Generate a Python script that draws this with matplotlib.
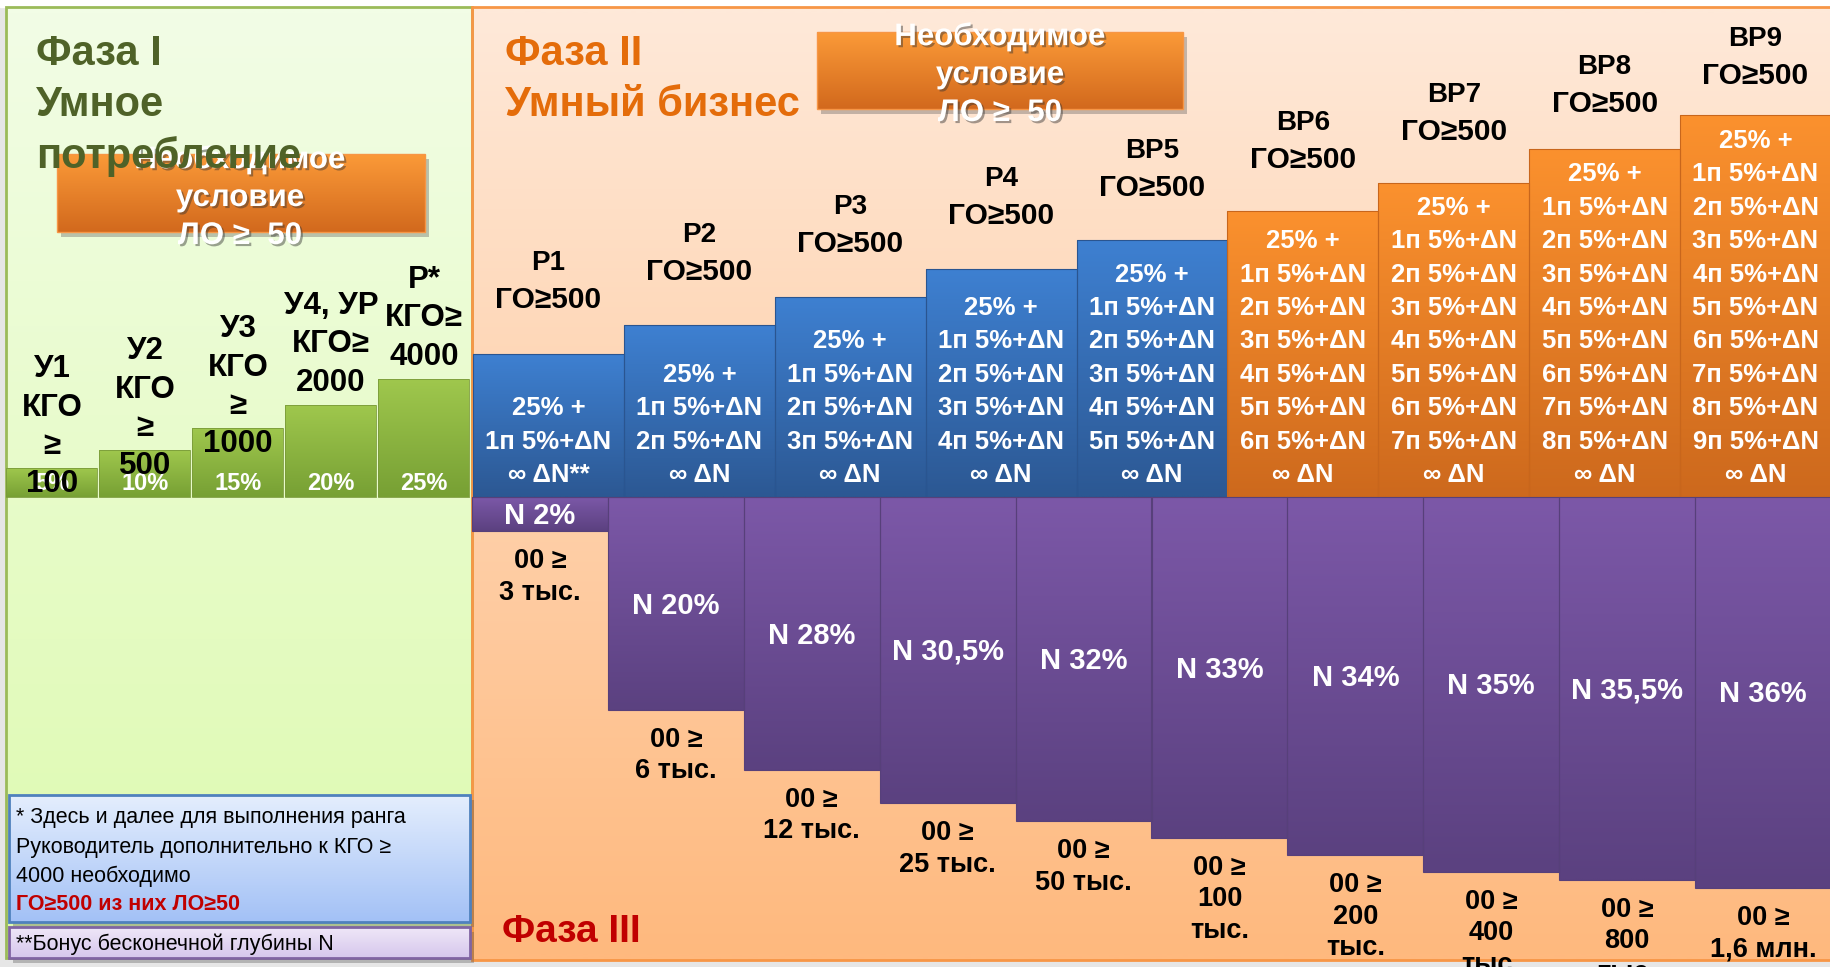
import matplotlib
matplotlib.use("Agg")
import matplotlib.pyplot as plt
import matplotlib.patheffects as pe
import numpy as np
from matplotlib.colors import to_rgb
from matplotlib.patches import Rectangle

# ---------------- data ----------------
p1_titles = [["У1", "КГО", "≥", "100"],
             ["У2", "КГО", "≥", "500"],
             ["У3", "КГО", "≥", "1000"],
             ["У4, УР", "КГО≥", "2000"],
             ["Р*", "КГО≥", "4000"]]
p1_percent = ["5%", "10%", "15%", "20%", "25%"]
p1_heights = [29, 47, 69, 92, 118]

p2_ranks = ["Р1", "Р2", "Р3", "Р4", "ВР5", "ВР6", "ВР7", "ВР8", "ВР9"]
p2_cond = ["ГО≥500"] * 9
p2_levels = [1, 2, 3, 4, 5, 6, 7, 8, 9]          # lines "Nп 5%+ΔN"
p2_heights = [143, 172, 200, 228, 257, 286, 314, 348, 382]
p2_tail = ["∞ ΔN**", "∞ ΔN", "∞ ΔN", "∞ ΔN", "∞ ΔN", "∞ ΔN", "∞ ΔN", "∞ ΔN", "∞ ΔN"]
p2_kind = ["blue"] * 5 + ["orange"] * 4

p3_pct = ["N 2%", "N 20%", "N 28%", "N 30,5%", "N 32%",
          "N 33%", "N 34%", "N 35%", "N 35,5%", "N 36%"]
p3_depth = [34, 213, 273, 306, 324, 341, 358, 375, 383, 391]
p3_volume = [["00 ≥", "3 тыс."], ["00 ≥", "6 тыс."], ["00 ≥", "12 тыс."],
             ["00 ≥", "25 тыс."], ["00 ≥", "50 тыс."], ["00 ≥", "100", "тыс."],
             ["00 ≥", "200", "тыс."], ["00 ≥", "400", "тыс."],
             ["00 ≥", "800", "тыс."], ["00 ≥", "1,6 млн."]]

cond_lines = ["Необходимое", "условие", "ЛО ≥  50"]
note1 = ["* Здесь и далее для выполнения ранга",
         "Руководитель дополнительно к КГО ≥",
         "4000 необходимо"]
note1_red = "ГО≥500 из них ЛО≥50"
note2 = "**Бонус бесконечной глубины N"

plt.rcParams["font.family"] = ["Liberation Sans", "DejaVu Sans"]

W, H = 1831, 967
fig = plt.figure(figsize=(W / 100, H / 100), dpi=100)
ax = fig.add_axes([0, 0, 1, 1])
ax.axis("off")
fig.patch.set_facecolor("#e6e6e6")


def gradient(patch, top, bottom, z):
    x0, y0 = patch.get_x(), patch.get_y()
    w, h = patch.get_width(), patch.get_height()
    t = np.linspace(0, 1, 80)[:, None, None]
    img = (1 - t) * np.array(to_rgb(top)) + t * np.array(to_rgb(bottom))
    im = ax.imshow(img, extent=(x0, x0 + w, y0 + h, y0), aspect="auto",
                   zorder=z, interpolation="bilinear")
    im.set_clip_path(patch)


def box(x, y, w, h, top, bottom, edge, z, lw=1.5, shadow=False):
    if shadow:
        ax.add_patch(Rectangle((x + 4, y + 5), w, h, color="#555555", alpha=0.35,
                               lw=0, zorder=z - 0.2))
    r = Rectangle((x, y), w, h, facecolor="none", edgecolor=edge, lw=lw, zorder=z + 0.1)
    ax.add_patch(r)
    gradient(r, top, bottom, z)
    return r


shadow_fx = [pe.SimplePatchShadow(offset=(1.5, -1.5), shadow_rgbFace="#333333", alpha=0.45),
             pe.Normal()]

BASE = 497

# ---------------- backgrounds ----------------
ax.add_patch(Rectangle((0, 0), W, 7, color="white", zorder=0))
box(6, 7, 466, 951, "#f2fde6", "#ddfaae", "#9bbb59", 1, lw=2)
box(472, 7, W - 472, 953, "#fee9d9", "#ffb97e", "#f79646", 1, lw=2)

# ---------------- phase I ----------------
p1_step = 93
for i, (h, lines, pct) in enumerate(zip(p1_heights, p1_titles, p1_percent)):
    cx = 52 + i * p1_step
    bar = ax.bar(cx, h, width=91, bottom=BASE - h, facecolor="none",
                 edgecolor="#7a9a3a", lw=0.6, zorder=3.1)[0]
    gradient(bar, "#9fc74d", "#77a034", 3)
    ax.text(cx, BASE - 13, pct, color="white", fontsize=17, fontweight="bold",
            ha="center", va="center", zorder=5)
    top = BASE - h
    for j, s in enumerate(lines):
        ax.text(cx, top - 99 + 38.5 * j, s, color="black", fontsize=22.5,
                fontweight="bold", ha="center", va="center", zorder=6)

box(57, 154, 368, 78, "#fb9a38", "#d2691d", "#f79646", 4, lw=1, shadow=True)
for j, s in enumerate(cond_lines):
    ax.text(240, 160 + 38 * j, s, color="white", fontsize=22.5, fontweight="bold",
            ha="center", va="center", zorder=5, path_effects=shadow_fx)

for j, s in enumerate(["Фаза I", "Умное", "потребление"]):
    ax.text(36, 54 + 51.5 * j, s, color="#4f6228", fontsize=30, fontweight="bold",
            ha="left", va="center", zorder=7)

box(9, 795, 461, 127, "#e4eefd", "#a3c1f6", "#4f81bd", 4, lw=2, shadow=True)
for j, s in enumerate(note1):
    ax.text(16, 818 + 29 * j, s, color="black", fontsize=15.5, ha="left",
            va="center", zorder=5)
ax.text(16, 905, note1_red, color="#c00000", fontsize=15.5, fontweight="bold",
        ha="left", va="center", zorder=5)

box(9, 927, 461, 31, "#efe7f8", "#d6c7ec", "#8064a2", 4, lw=2, shadow=True)
ax.text(16, 944, note2, color="black", fontsize=15.5, ha="left", va="center", zorder=5)

# ---------------- phase II ----------------
ax.text(505, 54, "Фаза II", color="#e46c0a", fontsize=30, fontweight="bold",
        ha="left", va="center", zorder=7)
ax.text(505, 105, "Умный бизнес", color="#e46c0a", fontsize=30, fontweight="bold",
        ha="left", va="center", zorder=7)

box(817, 32, 366, 77, "#fb9a38", "#d2691d", "#f79646", 4, lw=1, shadow=True)
for j, s in enumerate(cond_lines):
    ax.text(1000, 37 + 38 * j, s, color="white", fontsize=22.5, fontweight="bold",
            ha="center", va="center", zorder=5, path_effects=shadow_fx)

p2_w = (W - 473) / len(p2_ranks)
grads = {"blue": ("#3e80d1", "#2c5893", "#2a5590"),
         "orange": ("#fb912e", "#cd691d", "#c8661c")}
for i in range(len(p2_ranks)):
    cx = 473 + p2_w * (i + 0.5)
    h = p2_heights[i]
    c_top, c_bot, c_edge = grads[p2_kind[i]]
    bar = ax.bar(cx, h, width=p2_w, bottom=BASE - h, facecolor="none",
                 edgecolor=c_edge, lw=0.8, zorder=3.1)[0]
    gradient(bar, c_top, c_bot, 3)
    lines = ["25% +"] + [f"{k}п 5%+ΔN" for k in range(1, p2_levels[i] + 1)] + [p2_tail[i]]
    for j, s in enumerate(reversed(lines)):
        ax.text(cx, BASE - 22 - 33.4 * j, s, color="white", fontsize=18.5,
                fontweight="bold", ha="center", va="center", zorder=5)
    ly = 300 - 28 * i
    ax.text(cx, ly - 37, p2_ranks[i], color="black", fontsize=20, fontweight="bold",
            ha="center", va="center", zorder=5)
    ax.text(cx, ly, p2_cond[i], color="black", fontsize=21.5, fontweight="bold",
            ha="center", va="center", zorder=5)

# ---------------- phase III ----------------
p3_w = (W - 472) / len(p3_pct)
for i in range(len(p3_pct)):
    cx = 472 + p3_w * (i + 0.5)
    d = p3_depth[i]
    bar = ax.bar(cx, d, width=p3_w, bottom=BASE, facecolor="none",
                 edgecolor="#57407a", lw=0.8, zorder=3.1)[0]
    gradient(bar, "#7c58a8", "#5b4180", 3)
    ax.text(cx, BASE + d / 2 + 2, p3_pct[i], color="white", fontsize=21,
            fontweight="bold", ha="center", va="center", zorder=5)
    for j, s in enumerate(p3_volume[i]):
        ax.text(cx, BASE + d + 30 + 31.5 * j, s, color="black", fontsize=19.5,
                fontweight="bold", ha="center", va="center", zorder=5)

ax.text(502, 932, "Фаза III", color="#c00000", fontsize=28, fontweight="bold",
        ha="left", va="center", zorder=7)

ax.set_xlim(0, W)
ax.set_ylim(H, 0)
fig.savefig("out.png", dpi=100, facecolor=fig.get_facecolor())
